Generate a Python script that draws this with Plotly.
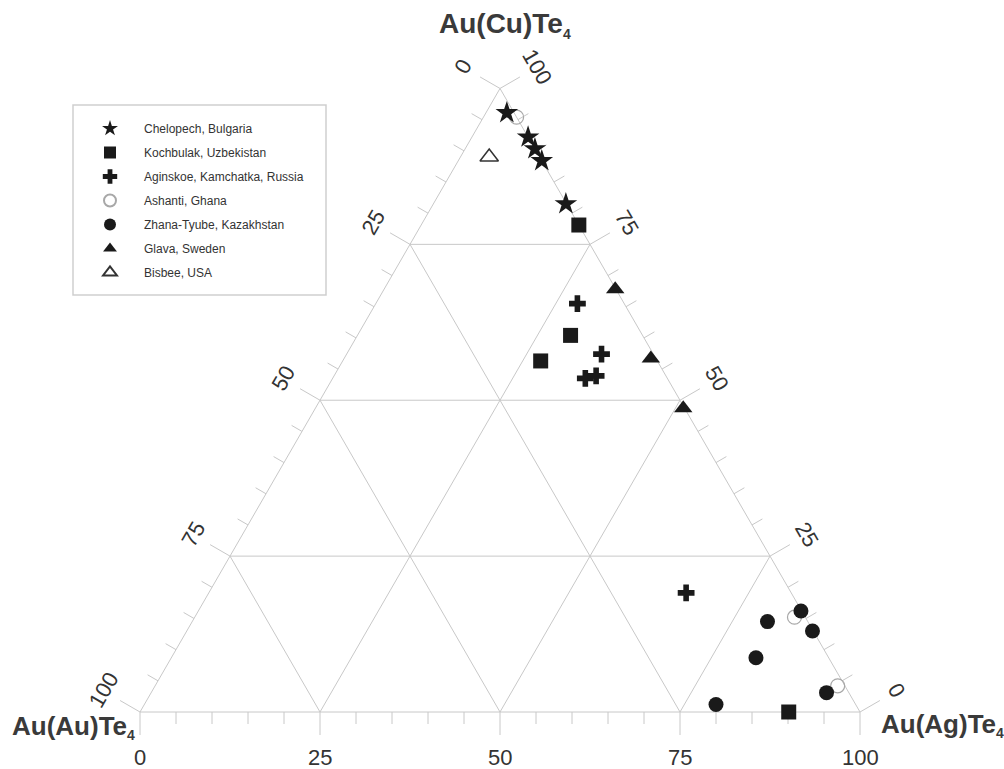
import math
import plotly.graph_objects as go

# ---------------- data (mol %: Au(Au)Te4, Au(Ag)Te4, Au(Cu)Te4) ----------------
chelopech_au = [1.0, 0.0, 0.0, 0.0, 0.1]
chelopech_ag = [2.9, 7.8, 9.7, 11.6, 18.4]
chelopech_cu = [96.1, 92.2, 90.3, 88.4, 81.5]

kochbulak_au = [0.0, 10.0, 16.2, 9.9]
kochbulak_ag = [21.9, 29.6, 27.5, 90.1]
kochbulak_cu = [78.1, 60.4, 56.3, 0.0]

aginskoe_au = [6.5, 7.2, 11.4, 9.7, 14.6]
aginskoe_ag = [28.0, 35.4, 35.1, 36.4, 66.3]
aginskoe_cu = [65.5, 57.4, 53.5, 53.9, 19.1]

ashanti_au = [0.0, 1.5, 1.0]
ashanti_ag = [4.6, 83.3, 94.8]
ashanti_cu = [95.4, 15.2, 4.2]

zhana_au = [0.1, 5.6, 0.1, 10.1, 3.1, 19.4]
zhana_ag = [83.7, 79.9, 86.9, 81.2, 93.8, 79.4]
zhana_cu = [16.2, 14.5, 13.0, 8.7, 3.1, 1.2]

glava_au = [0.1, 0.7, 0.2]
glava_ag = [32.1, 42.6, 51.1]
glava_cu = [67.8, 56.7, 48.7]

bisbee_au = [7.0]
bisbee_ag = [4.0]
bisbee_cu = [89.0]

major_ticks = [0, 25, 50, 75, 100]
minor_ticks = [v for v in range(0, 101, 5) if v not in major_ticks]
grid_values = [25, 50, 75]
tick_labels = ["0", "25", "50", "75", "100"]

SUB = "<sub><span style='font-size:14px'>4</span></sub>"
title_top = "Au(Cu)Te" + SUB
title_left = "Au(Au)Te" + SUB
title_right = "Au(Ag)Te" + SUB

# ---------------- geometry helpers ----------------
S3 = math.sqrt(3) / 2
PX = 7.2  # pixels per data unit (side of triangle = 100 units)


def tern(au, ag, cu):
    s = au + ag + cu
    ag, cu = 100 * ag / s, 100 * cu / s
    return ag + cu / 2, cu * S3


def tern_xy(aus, ags, cus):
    pts = [tern(a, g, c) for a, g, c in zip(aus, ags, cus)]
    return [p[0] for p in pts], [p[1] for p in pts]


GRID = "#c8c8c8"
TXT = "#333333"
FONT = "Liberation Sans, Arial, sans-serif"

fig = go.Figure()

# frame + grid
gx, gy = [], []
for (a, g, c) in [(100, 0, 0), (0, 100, 0), (0, 0, 100), (100, 0, 0)]:
    x, y = tern(a, g, c)
    gx.append(x); gy.append(y)
gx.append(None); gy.append(None)
for v in grid_values:
    for p, q in [((100 - v, 0, v), (0, 100 - v, v)),      # Cu = v
                 ((100 - v, v, 0), (0, v, 100 - v)),      # Ag = v
                 ((v, 100 - v, 0), (v, 0, 100 - v))]:     # Au = v
        x0, y0 = tern(*p); x1, y1 = tern(*q)
        gx += [x0, x1, None]; gy += [y0, y1, None]

# ticks (perpendicular, outward)
dirs = {
    "bottom": (0.0, -1.0),
    "left": (-S3, 0.5),
    "right": (S3, 0.5),
}


def edge_point(side, v):
    if side == "bottom":
        return tern(100 - v, v, 0)
    if side == "left":
        return tern(v, 0, 100 - v)
    return tern(0, 100 - v, v)


for side, (dx, dy) in dirs.items():
    for vals, ln in [(major_ticks, 23), (minor_ticks, 12)]:
        L = ln / PX
        for v in vals:
            x0, y0 = edge_point(side, v)
            gx += [x0, x0 + dx * L, None]
            gy += [y0, y0 + dy * L, None]

fig.add_trace(go.Scatter(x=gx, y=gy, mode="lines", line=dict(color=GRID, width=1),
                         hoverinfo="skip", showlegend=False))

# ---------------- data series ----------------
series = [
    # name, au, ag, cu, marker, legendrank
    ("Ashanti, Ghana", ashanti_au, ashanti_ag, ashanti_cu,
     dict(symbol="circle-open", size=14, color="#a8a8a8", line=dict(width=1.2, color="#a8a8a8")), 4),
    ("Chelopech, Bulgaria", chelopech_au, chelopech_ag, chelopech_cu,
     dict(symbol="star", size=17, color="#1a1a1a", line=dict(width=0)), 1),
    ("Kochbulak, Uzbekistan", kochbulak_au, kochbulak_ag, kochbulak_cu,
     dict(symbol="square", size=15, color="#1a1a1a", line=dict(width=0)), 2),
    ("Aginskoe, Kamchatka, Russia", aginskoe_au, aginskoe_ag, aginskoe_cu,
     dict(symbol="cross", size=14, color="#1a1a1a", line=dict(width=0)), 3),
    ("Zhana-Tyube, Kazakhstan", zhana_au, zhana_ag, zhana_cu,
     dict(symbol="circle", size=15, color="#1a1a1a", line=dict(width=0)), 5),
    ("Glava, Sweden", glava_au, glava_ag, glava_cu,
     dict(symbol="triangle-up", size=16, color="#1a1a1a", line=dict(width=0)), 6),
    ("Bisbee, USA", bisbee_au, bisbee_ag, bisbee_cu,
     dict(symbol="triangle-up-open", size=16, color="#333333", line=dict(width=1.5, color="#333333")), 7),
]

for name, au, ag, cu, mk, rank in series:
    x, y = tern_xy(au, ag, cu)
    fig.add_trace(go.Scatter(x=x, y=y, mode="markers", name=name, marker=mk,
                             legendrank=rank, legendgroup=name, cliponaxis=False))

# ---------------- tick labels ----------------
ann = []
for v, t in zip(major_ticks, tick_labels):
    x, y = edge_point("bottom", v)
    ann.append(dict(x=x, y=y, text=t, showarrow=False, yshift=-45, xanchor="center",
                    yanchor="middle", font=dict(size=22, color=TXT, family=FONT)))
    x, y = edge_point("left", v)
    ann.append(dict(x=x, y=y, text=t, showarrow=False, xshift=-37, yshift=22,
                    textangle=-60, xanchor="center", yanchor="middle",
                    font=dict(size=22, color=TXT, family=FONT)))
    x, y = edge_point("right", v)
    ann.append(dict(x=x, y=y, text=t, showarrow=False, xshift=37, yshift=22,
                    textangle=60, xanchor="center", yanchor="middle",
                    font=dict(size=22, color=TXT, family=FONT)))

# vertex titles
x, y = tern(0, 0, 100)
ann.append(dict(x=x, y=y, text="<b>" + title_top + "</b>", showarrow=False, yshift=63,
                xshift=5, xanchor="center", yanchor="middle",
                font=dict(size=28, color="#3a3a3a", family=FONT)))
x, y = tern(100, 0, 0)
ann.append(dict(x=x, y=y, text="<b>" + title_left + "</b>", showarrow=False, yshift=-15,
                xshift=-3, xanchor="right", yanchor="middle",
                font=dict(size=26, color="#3a3a3a", family=FONT)))
x, y = tern(0, 100, 0)
ann.append(dict(x=x, y=y, text="<b>" + title_right + "</b>", showarrow=False, yshift=-13,
                xshift=19, xanchor="left", yanchor="middle",
                font=dict(size=26, color="#3a3a3a", family=FONT)))

W, H = 1004, 769
x0px, y0px = 140, 712
fig.update_layout(
    width=W, height=H,
    margin=dict(l=0, r=0, t=0, b=0),
    paper_bgcolor="white", plot_bgcolor="white",
    xaxis=dict(range=[-x0px / PX, (W - x0px) / PX], visible=False, fixedrange=True),
    yaxis=dict(range=[-(H - y0px) / PX, y0px / PX], visible=False, fixedrange=True),
    annotations=ann,
    showlegend=True,
    legend=dict(x=76 / W, y=1 - 114 / H, xanchor="left", yanchor="top",
                bgcolor="rgba(0,0,0,0)", borderwidth=0, itemwidth=58,
                itemsizing="constant",
                traceorder="grouped", tracegroupgap=5,
                font=dict(size=12, color=TXT, family=FONT)),
    shapes=[dict(type="rect", xref="paper", yref="paper",
                 x0=73 / W, x1=326 / W, y0=1 - 295 / H, y1=1 - 105 / H,
                 line=dict(color="#cfcfcf", width=1.5))],
    hovermode=False,
)

fig.write_html("out.html", config={"displayModeBar": False},
               post_script="document.body.style.margin='0';document.body.style.overflow='hidden';")
